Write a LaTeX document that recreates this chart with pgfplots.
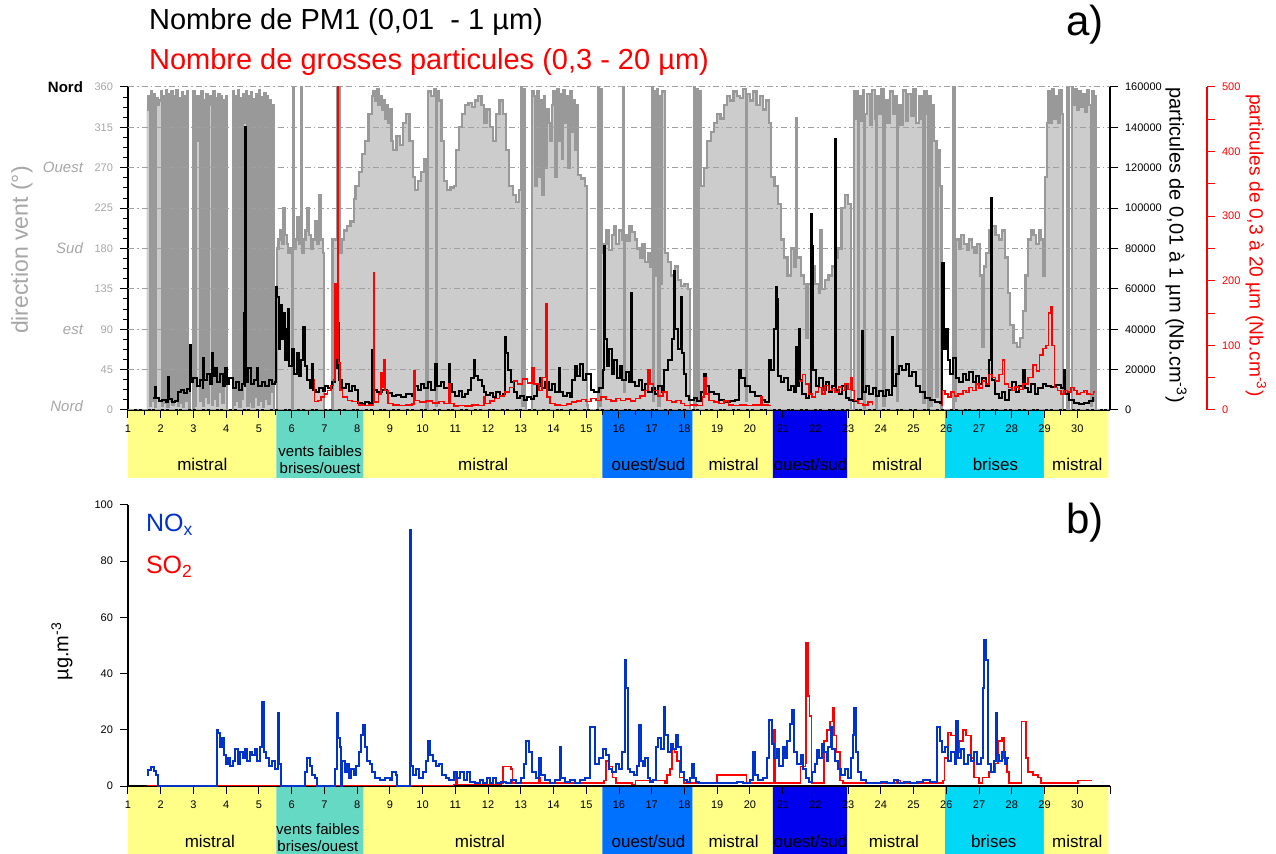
\documentclass[border=0pt]{standalone}
\usepackage{fontspec}
\setmainfont{Liberation Sans}
\usepackage{pgfplots}
\pgfplotsset{compat=1.18}
\usepackage{pgfplotstable}

\definecolor{bandyellow}{HTML}{FFFF88}
\definecolor{bandteal}{HTML}{66D9C4}
\definecolor{bandblue}{HTML}{0070FF}
\definecolor{banddeep}{HTML}{0000EE}
\definecolor{bandcyan}{HTML}{00D8F5}
\definecolor{windfill}{HTML}{CCCCCC}
\definecolor{windline}{HTML}{999999}
\definecolor{labgray}{HTML}{A6A6A6}
\definecolor{gridgray}{HTML}{A0A0A0}
\definecolor{noxblue}{HTML}{0033CC}

\newcommand{\ticksize}{\fontsize{5.5}{6}\selectfont}
\newcommand{\bandsize}{\fontsize{8.5}{9}\selectfont}
\newcommand{\smallband}{\fontsize{7.5}{8.5}\selectfont}

% wind direction (degrees), hourly-ish steps
\pgfplotstableread{
d v
1.57 335
1.62 350
1.66 5
1.70 355
1.74 10
1.78 352
1.82 3
1.86 348
1.90 340
1.95 345
2.00 355
2.04 5
2.08 350
2.12 8
2.16 356
2.20 4
2.24 352
2.28 10
2.32 355
2.36 6
2.40 350
2.44 12
2.48 357
2.52 5
2.56 348
2.60 8
2.64 354
2.68 3
2.72 350
2.76 10
2.80 355
2.84 40
2.88 0
3.00 355
3.04 5
3.08 350
3.12 300
3.16 350
3.20 10
3.24 355
3.28 5
3.32 345
3.36 15
3.40 352
3.44 8
3.48 340
3.52 350
3.56 6
3.60 355
3.64 12
3.68 348
3.72 5
3.76 352
3.80 20
3.84 350
3.88 8
3.92 345
3.96 30
4.00 350
4.03 0
4.20 355
4.24 6
4.28 350
4.32 10
4.36 356
4.40 4
4.44 348
4.48 12
4.52 352
4.56 320
4.60 355
4.64 5
4.68 350
4.72 9
4.76 354
4.80 3
4.84 347
4.88 15
4.92 352
4.96 6
5.00 356
5.04 10
5.08 349
5.12 4
5.16 353
5.20 12
5.24 350
5.28 7
5.32 345
5.36 20
5.40 340
5.45 0
5.55 180
5.60 190
5.65 200
5.70 185
5.75 225
5.80 195
5.85 185
5.90 175
5.95 180
6.00 0
6.03 360
6.06 180
6.12 190
6.18 215
6.24 185
6.28 360
6.31 175
6.36 190
6.42 200
6.48 225
6.54 195
6.60 180
6.66 190
6.72 210
6.78 185
6.84 240
6.90 190
6.96 175
7.00 0
7.25 190
7.40 360
7.46 175
7.52 190
7.60 200
7.70 205
7.80 210
7.90 235
7.95 250
8.05 265
8.15 285
8.25 300
8.35 330
8.45 350
8.50 355
8.55 345
8.60 358
8.65 340
8.70 350
8.75 335
8.80 345
8.85 325
8.90 340
8.95 320
9.00 335
9.05 300
9.10 290
9.20 305
9.30 295
9.40 320
9.50 330
9.60 300
9.70 260
9.78 245
9.85 255
9.95 265
10.05 280
10.12 0
10.16 355
10.25 350
10.35 358
10.40 5
10.43 355
10.50 345
10.58 300
10.66 255
10.75 245
10.85 248
10.95 250
11.02 290
11.10 315
11.20 330
11.30 340
11.40 342
11.50 338
11.60 345
11.70 350
11.80 340
11.88 320
11.95 335
12.05 315
12.15 300
12.25 330
12.35 345
12.45 330
12.55 290
12.65 250
12.75 240
12.85 232
12.95 245
13.00 360
13.04 5
13.08 358
13.12 10
13.15 0
13.35 355
13.40 350
13.45 250
13.50 355
13.55 260
13.60 345
13.65 240
13.70 350
13.75 270
13.80 335
13.85 320
13.90 300
13.95 340
14.00 355
14.05 260
14.10 358
14.15 300
14.20 352
14.25 280
14.30 356
14.35 320
14.40 350
14.45 270
14.50 355
14.55 310
14.60 345
14.65 290
14.70 340
14.75 262
14.85 258
14.95 250
15.02 5
15.05 0
15.35 360
15.40 5
15.44 358
15.48 175
15.55 185
15.62 200
15.70 178
15.78 195
15.85 205
15.92 185
16.00 200
16.08 190
16.12 360
16.15 20
16.18 195
16.25 188
16.32 205
16.40 198
16.48 190
16.56 180
16.64 170
16.72 185
16.80 165
16.88 175
16.96 160
17.00 360
17.04 10
17.08 355
17.12 150
17.16 358
17.20 5
17.24 350
17.28 140
17.32 355
17.40 175
17.50 165
17.60 150
17.70 160
17.80 145
17.90 138
18.00 140
18.10 135
18.18 0
18.28 360
18.32 5
18.36 358
18.40 10
18.44 355
18.50 250
18.60 270
18.70 300
18.80 310
18.90 320
19.00 330
19.10 325
19.20 340
19.30 350
19.40 345
19.50 355
19.60 350
19.70 348
19.80 358
19.88 10
19.92 352
20.00 345
20.10 355
20.20 340
20.30 350
20.40 335
20.50 345
20.58 320
20.65 260
20.75 250
20.85 230
20.95 190
21.05 170
21.15 150
21.25 180
21.35 160
21.40 325
21.44 170
21.55 150
21.65 140
21.72 80
21.78 140
21.90 160
22.00 140
22.10 130
22.15 200
22.20 135
22.30 145
22.40 150
22.50 160
22.60 170
22.70 180
22.80 225
22.90 240
23.00 230
23.08 0
23.18 355
23.22 325
23.28 355
23.31 8
23.34 350
23.40 322
23.46 356
23.48 0
23.51 330
23.58 352
23.66 318
23.74 357
23.82 325
23.85 0
23.88 350
23.95 330
24.02 358
24.08 5
24.12 345
24.20 320
24.28 355
24.36 330
24.44 350
24.50 10
24.53 340
24.60 318
24.68 356
24.76 322
24.84 352
24.92 328
25.00 358
25.08 320
25.16 350
25.24 325
25.30 8
25.33 355
25.40 330
25.45 0
25.48 350
25.52 5
25.55 340
25.62 300
25.70 15
25.73 290
25.80 250
25.85 0
26.22 360
26.26 10
26.30 190
26.38 180
26.46 195
26.54 185
26.62 178
26.70 190
26.78 182
26.86 175
26.94 185
27.02 150
27.08 70
27.14 160
27.22 175
27.30 200
27.40 205
27.50 195
27.60 190
27.70 200
27.80 170
27.88 130
27.95 95
28.05 75
28.15 70
28.25 80
28.35 110
28.42 150
28.50 190
28.58 200
28.66 195
28.74 185
28.82 200
28.90 190
28.96 150
29.02 260
29.08 320
29.12 355
29.16 320
29.22 358
29.28 325
29.34 350
29.40 320
29.46 356
29.52 330
29.56 0
29.70 360
29.73 0
29.85 360
29.88 340
29.94 358
30.00 335
30.06 355
30.12 338
30.18 352
30.24 332
30.30 357
30.36 340
30.42 5
30.45 355
30.50 10
30.53 350
30.58 0
30.60 0
}\wind

% PM1 number concentration (cm-3)
\pgfplotstableread{
d v
1.77 5800
1.82 11500
1.87 6000
1.95 4500
2.05 5000
2.15 4000
2.21 16500
2.24 5500
2.35 4000
2.45 4500
2.52 9000
2.62 10000
2.72 8500
2.80 10500
2.88 9500
2.90 32000
2.93 14000
3.00 16000
3.10 12000
3.20 15000
3.28 11000
3.30 25600
3.33 15000
3.42 18000
3.50 13000
3.56 28000
3.59 17000
3.66 21000
3.72 14000
3.80 18000
3.90 12000
3.97 21000
4.02 13000
4.10 16000
4.20 11000
4.30 14000
4.40 10000
4.48 13000
4.53 48000
4.56 12000
4.58 140000
4.61 14000
4.68 21000
4.75 13000
4.85 15000
4.93 21000
4.98 12000
5.08 14000
5.19 12000
5.30 15000
5.40 13000
5.49 14000
5.52 61000
5.55 56000
5.60 30000
5.65 52000
5.70 35000
5.75 48000
5.80 25000
5.85 40000
5.90 50000
5.93 22000
6.00 30000
6.08 18000
6.15 28000
6.22 17000
6.30 25000
6.36 41000
6.40 22000
6.46 15000
6.55 11000
6.62 23000
6.65 10000
6.75 9000
6.85 11000
6.95 9500
7.02 12000
7.12 11000
7.22 14000
7.33 21000
7.40 43000
7.44 15000
7.55 11000
7.65 13000
7.75 9500
7.85 12000
7.95 10000
8.04 3300
8.15 3000
8.25 4000
8.35 3500
8.45 29700
8.48 10000
8.60 9000
8.75 10000
8.90 8500
9.06 7000
9.20 7500
9.35 6500
9.50 8000
9.67 7000
9.75 12000
9.85 10000
9.95 13000
10.05 11000
10.15 14000
10.25 10000
10.39 23000
10.43 12000
10.55 14000
10.65 11000
10.80 23000
10.84 13000
10.90 9000
11.00 7000
11.10 9500
11.20 6500
11.30 8000
11.40 10000
11.48 16000
11.56 25000
11.60 17000
11.70 15000
11.80 12000
11.87 9000
11.95 7500
12.05 8500
12.15 6500
12.25 9000
12.35 7000
12.45 8000
12.53 36000
12.56 28000
12.62 20000
12.70 14000
12.78 9000
12.88 6000
12.98 7000
13.10 5000
13.20 6500
13.30 5500
13.40 7000
13.50 12000
13.58 16000
13.66 11000
13.75 14000
13.85 10000
13.95 13000
14.05 9000
14.16 21000
14.21 9000
14.30 7000
14.40 8500
14.50 6500
14.57 15000
14.65 22000
14.72 17000
14.80 23000
14.90 15000
15.00 18000
15.13 10000
15.25 9000
15.40 11000
15.50 20000
15.54 81000
15.57 35000
15.62 22000
15.70 30000
15.78 18000
15.86 25000
15.94 16000
16.02 22000
16.10 15000
16.20 19000
16.30 14000
16.37 58000
16.40 14000
16.50 12000
16.60 15000
16.70 10000
16.80 13000
16.90 9000
17.00 11000
17.10 8000
17.20 12000
17.30 9000
17.37 20000
17.50 25000
17.62 35000
17.68 69000
17.72 40000
17.80 30000
17.88 56000
17.92 28000
17.98 18000
18.05 7000
18.15 5000
18.30 6000
18.39 4500
18.50 9000
18.59 18000
18.65 12000
18.75 9000
18.90 8000
19.05 5000
19.20 4000
19.40 4500
19.55 5000
19.66 20000
19.72 16000
19.85 12000
20.00 9000
20.15 7000
20.33 5000
20.45 4000
20.58 25000
20.65 20000
20.72 40000
20.79 61000
20.82 55000
20.85 17000
20.95 14000
21.05 16000
21.15 10000
21.25 12000
21.35 9000
21.40 31000
21.44 12000
21.50 40000
21.53 15000
21.60 8000
21.70 6000
21.80 9000
21.86 97000
21.90 81000
21.94 20000
22.02 12000
22.12 16000
22.22 10000
22.32 14000
22.42 9000
22.52 12000
22.60 134000
22.64 10000
22.72 8000
22.82 12000
22.92 6000
23.03 5000
23.15 4500
23.30 5500
23.42 39000
23.45 9000
23.55 12000
23.65 8000
23.75 11000
23.85 7000
23.95 9500
24.05 7000
24.15 10000
24.25 7500
24.35 36000
24.38 12000
24.46 18000
24.56 22000
24.66 20000
24.76 23000
24.86 17000
24.96 19000
25.07 12000
25.20 9000
25.35 6000
25.50 5000
25.65 4000
25.80 3500
25.88 73000
25.92 30000
25.99 40000
26.05 25000
26.12 18000
26.20 26000
26.30 16000
26.40 14000
26.50 18000
26.60 15000
26.70 19000
26.80 14000
26.90 17000
27.00 13000
27.10 16000
27.20 12000
27.31 25000
27.36 105000
27.40 15000
27.50 8000
27.60 6000
27.70 9000
27.80 5000
27.92 10000
28.02 14000
28.12 9000
28.22 12000
28.33 20000
28.40 11000
28.50 9000
28.60 13000
28.70 8000
28.80 11000
28.94 13000
29.05 12000
29.20 11500
29.35 12500
29.50 11000
29.60 20000
29.64 8000
29.75 5000
29.90 3500
30.05 3000
30.20 3500
30.35 4500
30.47 6000
30.52 6000
}\pmone

% coarse particles (0.3-20 um, cm-3), three measured stretches
\pgfplotstableread{
d v
6.67 46
6.70 13
6.80 15
6.90 20
7.00 25
7.10 30
7.20 38
7.28 46
7.33 196
7.37 80
7.40 500
7.43 73
7.48 31
7.55 20
7.70 15
7.85 13
8.04 8
8.20 7
8.35 8
8.50 212
8.53 12
8.65 25
8.72 57
8.78 35
8.81 77
8.85 30
8.95 10
9.10 8
9.30 7
9.50 8
9.67 9
9.73 60
9.78 15
9.90 12
10.10 14
10.30 11
10.50 13
10.65 10
10.80 40
10.85 10
10.95 6
11.10 7
11.30 6
11.50 8
11.70 7
11.87 20
11.92 10
12.05 14
12.20 18
12.35 22
12.50 28
12.65 35
12.78 45
12.90 40
13.05 48
13.20 42
13.34 65
13.40 40
13.55 30
13.65 50
13.75 165
13.80 20
13.90 10
14.05 8
14.20 7
14.40 9
14.55 12
14.70 14
14.85 16
15.00 13
15.15 18
15.30 15
15.45 20
15.60 16
15.75 14
15.90 18
16.05 15
16.20 17
16.35 14
16.50 18
16.65 22
16.80 30
16.88 62
16.95 40
17.05 30
17.20 22
17.35 28
17.47 15
17.60 12
17.75 15
17.90 10
18.00 7
18.20 8
18.40 7
18.55 20
18.59 50
18.65 25
18.75 15
18.90 12
19.05 10
19.20 14
19.35 8
19.50 7
19.70 8
19.90 7
20.10 8
20.33 20
20.38 8
20.55 7
20.63 7
}\coarseA
\pgfplotstableread{
d v
21.50 45
21.60 55
21.70 40
21.80 25
21.90 20
22.00 28
22.10 35
22.20 25
22.30 38
22.40 30
22.50 33
22.60 28
22.70 36
22.80 30
22.90 40
23.00 32
23.08 50
23.12 30
23.20 15
23.30 10
23.45 8
23.60 12
23.75 8
}\coarseB
\pgfplotstableread{
d v
25.85 8
25.88 30
25.95 25
26.05 20
26.15 28
26.25 22
26.35 25
26.50 30
26.60 27
26.70 35
26.80 30
26.90 40
27.00 34
27.10 45
27.20 40
27.31 55
27.40 50
27.50 45
27.60 55
27.72 77
27.78 40
27.90 35
28.00 30
28.10 36
28.20 32
28.35 40
28.50 50
28.65 70
28.75 60
28.85 85
28.95 95
29.05 100
29.12 150
29.18 160
29.22 100
29.30 35
29.40 30
29.50 25
29.60 30
29.70 28
29.80 35
29.90 30
30.00 25
30.10 27
30.20 30
30.30 25
30.40 24
30.50 28
30.55 28
}\coarseC

% NOx (ug m-3)
\pgfplotstableread{
d v
1.57 4
1.62 5.7
1.70 6.9
1.78 5.5
1.85 4
1.92 0
3.70 0
3.71 20
3.76 19
3.80 14
3.86 17
3.92 11
3.98 8
4.05 10
4.12 7
4.20 9
4.28 13
4.35 8
4.42 12
4.50 10
4.58 13
4.65 9
4.72 12
4.80 11
4.88 13
4.95 9
5.02 14
5.10 30
5.14 12
5.22 10
5.30 7
5.40 9
5.50 6
5.57 26
5.62 8
5.68 0
6.41 0
6.42 5
6.48 9.8
6.55 7
6.62 4
6.70 3
6.76 0
7.32 0
7.33 6
7.38 26
7.42 17
7.47 14
7.50 0
7.55 9
7.62 5
7.68 8
7.75 3
7.82 6
7.90 4
7.98 7
8.06 12
8.12 18
8.18 21.7
8.23 14
8.30 9
8.38 8
8.45 5
8.55 3
8.70 2
8.85 3
9.00 2
9.06 5
9.18 4
9.22 0
9.62 0
9.63 91
9.66 7
9.72 4
9.80 6
9.90 3
10.00 5
10.10 9
10.18 16
10.24 11
10.32 9
10.40 7
10.50 8
10.60 4
10.70 3
10.80 2
10.95 5
11.05 3
11.15 5
11.25 2
11.35 5
11.45 1.5
11.60 1
11.75 2
11.85 1
11.98 3
12.05 1
12.15 3
12.25 1
12.40 1.5
12.55 1
12.70 2
12.85 1
13.00 3
13.10 8
13.15 16
13.25 12
13.34 5
13.45 3
13.55 10
13.62 4
13.75 2
13.90 1
14.05 2
14.20 14
14.24 3
14.35 1.5
14.50 2
14.65 1
14.80 2
14.95 3
15.10 21
15.28 8
15.40 10
15.50 13
15.60 11
15.70 6
15.80 5
15.90 8
16.00 6
16.10 12
16.17 45
16.22 35
16.27 6
16.35 5
16.45 4
16.55 7
16.61 21.7
16.66 9
16.72 7
16.80 10
16.88 3
16.95 1.5
17.05 2
17.12 14
17.20 17
17.28 13
17.37 28
17.42 18
17.50 12
17.58 15
17.66 13
17.73 18
17.80 14
17.88 5
17.98 2
18.08 1.5
18.18 3
18.24 8
18.28 3
18.35 1.5
18.45 1
18.60 1
18.80 1
19.00 1
19.20 1
19.40 1
19.60 1.5
19.80 1
20.00 2
20.10 12
20.15 4
20.25 2
20.40 3
20.53 10
20.58 23.5
20.66 15
20.73 10
20.82 13
20.90 7
21.00 14
21.08 10
21.14 16
21.22 22
21.30 27
21.35 12
21.45 8
21.55 11
21.62 6
21.70 3
21.80 1.5
21.90 5
22.00 8
22.06 12.8
22.12 10
22.20 15
22.26 12
22.35 9
22.40 14
22.47 21
22.52 13
22.60 9
22.68 6
22.77 4
22.90 6
23.00 3
23.08 10
23.14 18
23.18 27.6
23.24 12
23.30 5
23.40 2
23.55 1
23.79 1
24.00 1.5
24.20 1
24.40 2
24.51 1
24.70 1.5
24.90 1
25.10 1.5
25.30 2
25.50 1.5
25.70 3
25.73 21
25.80 16
25.88 12
25.95 14
26.05 9
26.15 12
26.25 8
26.29 23
26.35 10
26.45 13
26.55 8
26.65 11
26.75 9
26.85 12
26.95 8
27.05 10
27.12 35
27.16 52
27.22 45
27.28 8
27.35 5
27.45 9
27.51 26
27.56 11
27.62 9
27.70 12
27.78 8
27.85 10
27.92 10
}\nox

% SO2 (ug m-3)
\pgfplotstableread{
d v
1.57 0.15
10.95 0.5
11.00 5
11.05 0.5
12.40 1
12.45 7
12.70 6
12.75 1
13.50 1
13.55 3
13.60 1
15.55 2
15.60 9
15.70 7
15.80 3
15.90 1
16.40 0.5
16.50 2
17.40 1
17.47 4
17.55 6
17.62 13
17.70 12
17.78 9
17.85 3
17.98 1
18.95 1
19.00 4
19.82 4
19.90 1
20.68 1
20.73 20
20.78 1
21.50 1
21.55 7
21.70 8
21.72 51
21.78 32
21.82 25
21.88 1
22.20 1
22.26 16
22.35 20
22.45 23
22.52 28
22.57 18
22.65 12
22.75 2
22.85 1
24.50 2
24.60 1
25.90 2
25.95 10
26.05 19
26.15 18
26.30 12
26.40 16
26.50 20
26.60 18
26.75 10
26.85 3
27.00 1
27.10 3
27.30 5
27.50 8
27.57 16
27.70 17
27.77 10
27.85 5
27.92 1
28.25 1
28.30 23
28.43 10
28.50 5
28.65 4
28.80 3
28.89 1
30.00 1
30.03 2
30.40 2
30.45 2
}\sotwo

\pgfplotsset{
  panel/.style={scale only axis, width=491pt, xmin=1, xmax=31, anchor=south west},
  bandaxis/.style={panel, height=34pt, ymin=0, ymax=1, hide axis, clip=false},
}
\tikzset{
  compass/.style={anchor=east, xshift=-19pt, font=\fontsize{7.5}{8}\selectfont\itshape, text=labgray},
}

% regime bands: mistral / weak winds / west-south / sea breezes
\newcommand{\drawbands}{%
  \addplot[fill=bandyellow, draw=none] coordinates {(1,0)(1,1)(5.53,1)(5.53,0)} \closedcycle;
  \addplot[fill=bandteal, draw=none] coordinates {(5.53,0)(5.53,1)(8.2,1)(8.2,0)} \closedcycle;
  \addplot[fill=bandyellow, draw=none] coordinates {(8.2,0)(8.2,1)(15.49,1)(15.49,0)} \closedcycle;
  \addplot[fill=bandblue, draw=none] coordinates {(15.49,0)(15.49,1)(18.25,1)(18.25,0)} \closedcycle;
  \addplot[fill=bandyellow, draw=none] coordinates {(18.25,0)(18.25,1)(20.7,1)(20.7,0)} \closedcycle;
  \addplot[fill=banddeep, draw=none] coordinates {(20.7,0)(20.7,1)(22.98,1)(22.98,0)} \closedcycle;
  \addplot[fill=bandyellow, draw=none] coordinates {(22.98,0)(22.98,1)(25.96,1)(25.96,0)} \closedcycle;
  \addplot[fill=bandcyan, draw=none] coordinates {(25.96,0)(25.96,1)(28.98,1)(28.98,0)} \closedcycle;
  \addplot[fill=bandyellow, draw=none] coordinates {(28.98,0)(28.98,1)(30.95,1)(30.95,0)} \closedcycle;
}

\begin{document}
\begin{tikzpicture}
\path[use as bounding box] (0,0) rectangle (638pt,426.5pt);

% ---------- panel a: regime band ----------
\begin{axis}[bandaxis, at={(64pt,187.5pt)}]
\drawbands
\begin{scope}[font=\bandsize]
\node at (axis cs:3.27,0.2) {mistral};
\node[font=\smallband, align=center] at (axis cs:6.87,0.27) {vents faibles\\brises/ouest};
\node at (axis cs:11.85,0.2) {mistral};
\node at (axis cs:16.9,0.2) {ouest/sud};
\node at (axis cs:19.5,0.2) {mistral};
\node at (axis cs:21.85,0.2) {ouest/sud};
\node at (axis cs:24.5,0.2) {mistral};
\node at (axis cs:27.5,0.2) {brises};
\node at (axis cs:30.0,0.2) {mistral};
\end{scope}
\end{axis}

% ---------- panel a: wind direction ----------
\begin{axis}[panel, at={(64pt,221.5pt)}, height=161.5pt,
  ymin=0, ymax=360, ytick={0,45,...,360}, minor y tick num=3,
  xtick={1,...,30}, minor x tick num=1,
  axis x line*=bottom, axis y line*=left,
  tick align=outside, major tick length=4pt, minor tick length=2.5pt,
  tick style={black, line width=0.5pt},
  axis line style={black, line width=0.8pt},
  yticklabel style={font=\ticksize, text=labgray},
  xticklabel style={font=\ticksize},
  /pgf/number format/assume math mode=true,
  axis on top, clip=false]
\addplot[const plot, fill=windfill, draw=none] table {\wind} \closedcycle;
\addplot[const plot, draw=windline, line width=1.1pt] table {\wind};
\node[compass, font=\fontsize{7.5}{8}\selectfont\bfseries, text=black] at (axis cs:1,360) {Nord};
\node[compass] at (axis cs:1,270) {Ouest};
\node[compass] at (axis cs:1,180) {Sud};
\node[compass] at (axis cs:1,90) {est};
\node[compass, yshift=2pt] at (axis cs:1,0) {Nord};
\node[xshift=-53pt, rotate=90, font=\fontsize{11.5}{12}\selectfont, text=labgray] at (rel axis cs:0,0.495) {direction vent (°)};
\end{axis}

% ---------- panel a: PM1 ----------
\begin{axis}[panel, at={(64pt,221.5pt)}, height=161.5pt,
  ymin=0, ymax=160000, ytick={0,20000,...,160000},
  axis x line=none, axis y line*=right,
  ymajorgrids, grid style={gridgray, dash pattern=on 3pt off 1.5pt on 0.8pt off 1.5pt, line width=0.5pt},
  tick align=outside, major tick length=4pt,
  tick style={black, line width=0.5pt},
  axis line style={black, line width=0.8pt},
  scaled y ticks=false,
  yticklabel style={font=\ticksize, /pgf/number format/fixed, /pgf/number format/1000 sep={}},
  /pgf/number format/assume math mode=true,
  clip=false]
\addplot[const plot, black, line width=1pt] table {\pmone};
\node[xshift=33pt, rotate=-90, font=\fontsize{10}{12}\selectfont] at (rel axis cs:1,0.51) {particules de 0,01 à 1 µm (Nb.cm\textsuperscript{-3})};
\end{axis}

% ---------- panel a: coarse particles ----------
\begin{axis}[panel, at={(64pt,221.5pt)}, height=161.5pt,
  ymin=0, ymax=500, hide axis, clip=false]
\addplot[const plot, red, line width=0.8pt] table {\coarseA};
\addplot[const plot, red, line width=0.8pt] table {\coarseB};
\addplot[const plot, red, line width=0.8pt] table {\coarseC};
\end{axis}

% ---------- panel a: red scale ----------
\begin{axis}[scale only axis, anchor=south west, at={(553.5pt,221.5pt)}, width=50pt, height=161.5pt,
  xmin=0, xmax=1, ymin=0, ymax=500, ytick={0,100,...,500}, minor y tick num=1,
  axis x line=none, axis y line*=right,
  tick align=outside, major tick length=4pt, minor tick length=4pt,
  tick style={red, line width=0.5pt},
  axis line style={red, line width=0.8pt},
  yticklabel style={font=\ticksize, text=red},
  /pgf/number format/assume math mode=true, clip=false]
\node[xshift=24.5pt, rotate=-90, font=\fontsize{9.6}{11}\selectfont, text=red] at (rel axis cs:1,0.51) {particules de 0,3 à 20 µm (Nb.cm\textsuperscript{-3})};
\end{axis}

% ---------- panel b: regime band ----------
\begin{axis}[bandaxis, at={(64pt,-1pt)}, height=34.5pt]
\drawbands
\begin{scope}[font=\bandsize]
\node at (axis cs:3.5,0.2) {mistral};
\node[font=\smallband, align=center] at (axis cs:6.8,0.25) {vents faibles\\brises/ouest};
\node at (axis cs:11.75,0.2) {mistral};
\node at (axis cs:16.9,0.2) {ouest/sud};
\node at (axis cs:19.5,0.2) {mistral};
\node at (axis cs:21.85,0.2) {ouest/sud};
\node at (axis cs:24.4,0.2) {mistral};
\node at (axis cs:27.45,0.2) {brises};
\node at (axis cs:30.0,0.2) {mistral};
\end{scope}
\end{axis}

% ---------- panel b: NOx and SO2 ----------
\begin{axis}[panel, at={(64pt,33.5pt)}, height=140.5pt,
  ymin=0, ymax=100, ytick={0,20,...,100},
  xtick={1,...,30}, extra x ticks={31}, extra x tick labels={},
  axis x line*=bottom, axis y line*=left,
  tick align=outside, major tick length=4pt,
  tick style={black, line width=0.5pt},
  axis line style={black, line width=0.8pt},
  yticklabel style={font=\ticksize},
  xticklabel style={font=\ticksize},
  /pgf/number format/assume math mode=true,
  clip=false]
\addplot[const plot, red, line width=0.8pt] table {\sotwo};
\addplot[const plot, noxblue, line width=1pt] table {\nox};
\node[xshift=-33pt, rotate=90, font=\fontsize{10}{12}\selectfont] at (rel axis cs:0,0.48) {µg.m\textsuperscript{-3}};
\node[anchor=west, xshift=5.5pt, font=\fontsize{12.5}{14}\selectfont, text=noxblue] at (rel axis cs:0,0.93) {NO\textsubscript{x}};
\node[anchor=west, xshift=5.5pt, font=\fontsize{12.5}{14}\selectfont, text=red] at (rel axis cs:0,0.78) {SO\textsubscript{2}};
\end{axis}

% ---------- titles and panel letters ----------
\node[anchor=west, font=\fontsize{14.5}{16}\selectfont] at (71pt,415.5pt) {Nombre de PM1 (0,01\ \ - 1 µm)};
\node[anchor=west, font=\fontsize{14.5}{16}\selectfont, text=red] at (71pt,395.5pt) {Nombre de grosses particules (0,3 - 20 µm)};
\node[font=\fontsize{21}{24}\selectfont] at (542.5pt,414pt) {a)};
\node[font=\fontsize{21}{24}\selectfont] at (542.5pt,165pt) {b)};
\end{tikzpicture}
\end{document}
